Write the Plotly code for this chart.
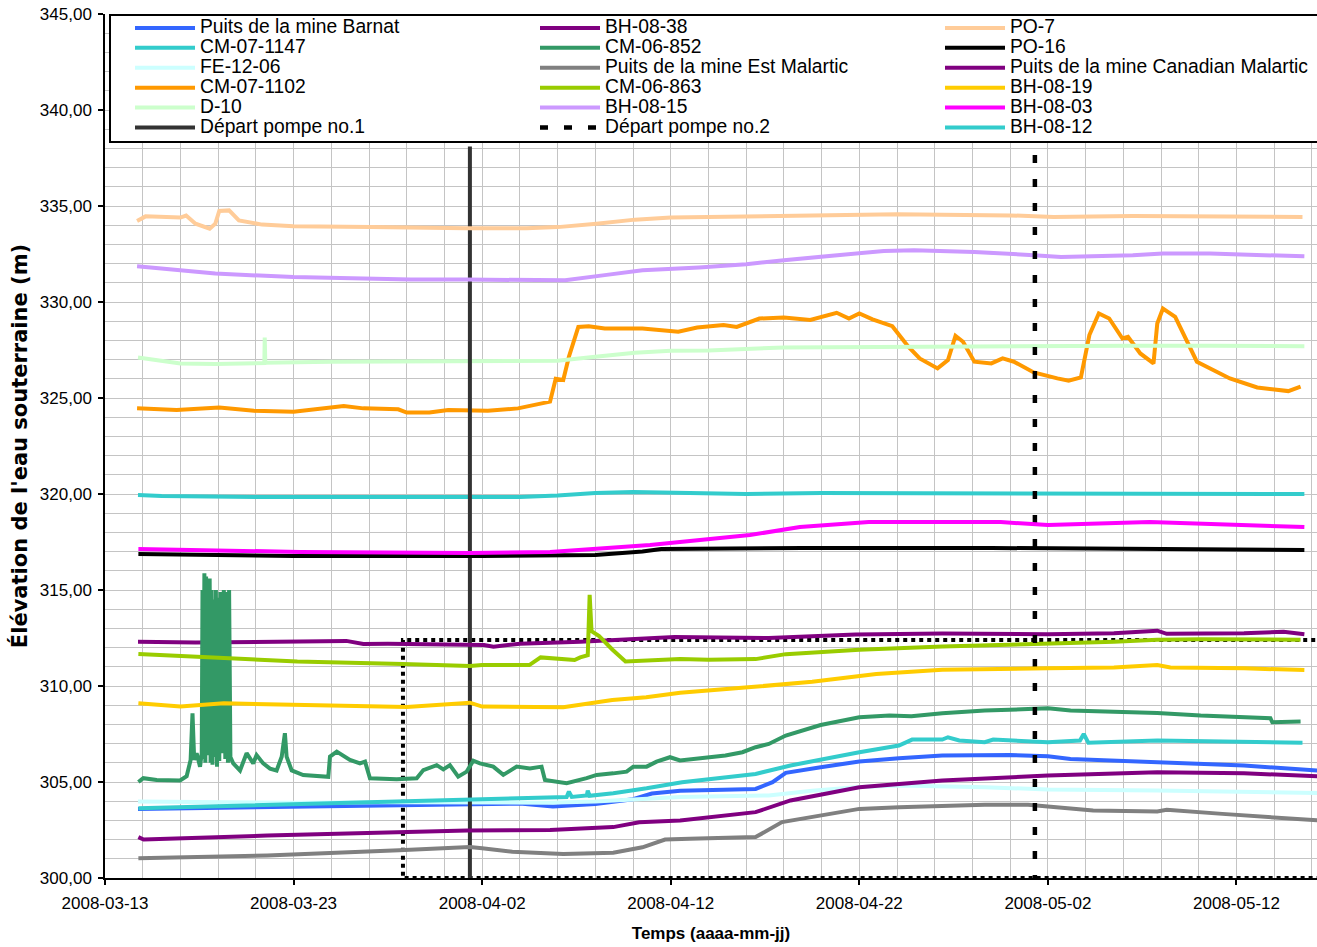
import pandas as pd
import plotly.graph_objects as go

START = pd.Timestamp("2008-03-13")
X_END_DAYS = 64.27

# ---- series (days since 2008-03-13, elevation m) ----
barnat_t = [1.75, 12, 16, 20, 22, 23.75, 26, 28, 29, 30.5, 32, 34.5, 35.4, 36.1, 37.95, 40, 42.1, 44.4, 48, 50, 51.2, 53.5, 55.8, 58.1, 60.4, 64.6]
barnat_v = [303.6, 303.72, 303.8, 303.85, 303.88, 303.72, 303.85, 304.1, 304.4, 304.55, 304.58, 304.64, 304.99, 305.48, 305.77, 306.07, 306.24, 306.38, 306.41, 306.34, 306.2, 306.12, 306.07, 305.94, 305.86, 305.58]

cm071147_t = [1.75, 3, 8, 12, 16, 19.5, 22, 24, 26, 28, 30, 34, 38, 42, 46, 50, 55, 60, 63.6]
cm071147_v = [319.95, 319.9, 319.85, 319.85, 319.82, 319.8, 319.85, 319.92, 320.05, 320.1, 320.08, 320.0, 320.05, 320.05, 320.05, 320.0, 320.02, 320.0, 320.0]

fe1206_t = [1.75, 8, 10, 15, 19, 23.5, 26, 28.3, 30.5, 35.2, 37.5, 39.8, 42.1, 46.65, 50, 55.8, 60.4, 64.6]
fe1206_v = [303.99, 303.95, 303.92, 303.95, 303.94, 303.92, 303.98, 304.12, 304.22, 304.3, 304.55, 304.73, 304.82, 304.73, 304.61, 304.56, 304.5, 304.42]

cm071102_t = [1.7, 3.8, 6.06, 7.9, 10, 11.8, 12.66, 13.7, 15.55, 16, 17.2, 18.2, 19.15, 20.3, 21.9, 23, 23.6, 23.9, 24.3, 24.6, 25.1, 25.65, 26.5, 28.5, 30.4, 31.4, 32.8, 33.5, 34.7, 36, 37.4, 38.8, 39.45, 40, 40.7, 41.75, 42.6, 43.2, 44.15, 44.7, 45.1, 45.5, 46.1, 47, 47.6, 48.2, 49.25, 50.5, 51.1, 51.75, 52.2, 52.7, 53.25, 53.95, 54.25, 54.9, 55.6, 55.8, 56.1, 56.75, 57.9, 59.65, 61.1, 62.75, 63.4]
cm071102_v = [324.46, 324.38, 324.5, 324.33, 324.29, 324.46, 324.58, 324.46, 324.41, 324.24, 324.24, 324.38, 324.38, 324.33, 324.46, 324.67, 324.81, 326.0, 325.94, 327.15, 328.7, 328.74, 328.62, 328.62, 328.45, 328.67, 328.8, 328.7, 329.14, 329.19, 329.06, 329.44, 329.14, 329.4, 329.1, 328.74, 327.67, 327.06, 326.54, 326.97, 328.24, 327.93, 326.89, 326.8, 327.06, 326.89, 326.33, 326.02, 325.9, 326.07, 328.28, 329.4, 329.14, 328.1, 328.19, 327.32, 326.8, 328.88, 329.66, 329.23, 326.89, 326.02, 325.55, 325.36, 325.59]

d10_t = [1.75, 4, 5.85, 8.3, 8.45, 8.47, 8.5, 12, 16, 19, 22.3, 24, 26, 28.1, 30, 32, 36, 42, 48, 54.5, 58.6, 63.6]
d10_v = [327.11, 326.8, 326.77, 326.8, 326.82, 328.15, 326.84, 326.89, 326.89, 326.89, 326.89, 326.94, 327.15, 327.36, 327.46, 327.48, 327.63, 327.67, 327.67, 327.72, 327.72, 327.7]

pompe1_t = [19.35, 19.35]
pompe1_v = [338.1, 299.6]

bh0838_t = [1.75, 4.8, 12.8, 13.7, 15, 19.5, 20.1, 20.6, 22, 25.2, 28.3, 30.2, 35.2, 39.8, 44.4, 50, 53.5, 55.8, 56.3, 60.4, 62.5, 63.6]
bh0838_v = [312.31, 312.26, 312.35, 312.19, 312.2, 312.19, 312.14, 312.05, 312.2, 312.31, 312.45, 312.55, 312.5, 312.68, 312.74, 312.7, 312.75, 312.88, 312.72, 312.75, 312.82, 312.7]

cm06852_t = [1.77, 2.03, 2.74, 3.98, 4.33, 4.54, 4.64, 4.73, 4.86, 5.04, 5.13,
             5.17, 5.22, 5.27, 5.32, 5.36, 5.41, 5.45, 5.50, 5.55, 5.60, 5.65, 5.70, 5.76, 5.82, 5.88, 5.94, 6.0, 6.06, 6.12, 6.2, 6.3, 6.38, 6.45, 6.52, 6.58, 6.65,
             6.8, 7.16, 7.51, 7.86, 8.04, 8.39, 8.75, 9.1, 9.37, 9.54, 9.63, 9.9, 10.51, 11.84, 11.93, 12.29, 12.99, 13.52, 13.79, 14.05, 15.47, 16.53, 16.88, 17.59, 17.94, 18.29, 18.73, 19.18, 19.53, 19.88, 20.59, 21.12, 21.83, 22.53, 23.15, 23.33, 24.48, 25.54, 26.07, 26.95, 27.66, 28.01, 28.72, 29.25, 29.96, 30.49, 32.9, 33.8, 34.5, 35.2, 36.1, 37.95, 40, 41.6, 42.76, 44.4, 46.65, 48.95, 50, 51.2, 53.5, 55.8, 58.1, 61.8, 61.9, 63.4]
cm06852_v = [305.0, 305.2, 305.1, 305.08, 305.3, 306.15, 308.58, 306.15, 306.5, 305.8, 306.5,
             315.0, 306.2, 315.87, 306.0, 315.7, 308.6, 315.5, 306.4, 315.6, 306.0, 315.0, 305.9, 314.5, 306.3, 315.0, 305.8, 314.6, 306.1, 314.9, 306.5, 315.0, 306.2, 314.9, 306.0, 315.0, 306.3,
             305.97, 305.6, 306.5, 305.97, 306.4, 305.97, 305.7, 305.6, 306.32, 307.54, 306.32, 305.6, 305.36, 305.27, 306.32, 306.58, 306.15, 305.97, 306.06, 305.19, 305.14, 305.19, 305.62, 305.88, 305.66, 305.88, 305.28, 305.54, 306.11, 305.97, 305.8, 305.37, 305.8, 305.71, 305.8, 305.11, 304.94, 305.2, 305.37, 305.45, 305.54, 305.8, 305.8, 306.06, 306.29, 306.12, 306.38, 306.55, 306.81, 306.98, 307.42, 307.97, 308.37, 308.46, 308.42, 308.58, 308.72, 308.8, 308.84, 308.72, 308.67, 308.6, 308.46, 308.32, 308.11, 308.15]

estmal_t = [1.77, 8.6, 15.6, 19.35, 20, 21.6, 24.3, 26.95, 28.5, 29.7, 31, 34.5, 35.9, 37.5, 40, 42.1, 46.65, 48.95, 50.3, 52.4, 55.8, 56.3, 59.25, 64.6]
estmal_v = [301.03, 301.17, 301.45, 301.62, 301.55, 301.37, 301.25, 301.32, 301.6, 302.0, 302.05, 302.13, 302.91, 303.17, 303.6, 303.69, 303.81, 303.81, 303.69, 303.52, 303.47, 303.55, 303.34, 302.98]

cm06863_t = [1.77, 6.67, 10.2, 15.8, 19.35, 20, 22.5, 23.1, 24.9, 25.2, 25.6, 25.7, 25.8, 26.2, 26.9, 27.6, 29.4, 30.5, 32, 34.5, 36.1, 40, 44.4, 50, 53.5, 55.8, 58.1, 63.4]
cm06863_v = [311.67, 311.44, 311.27, 311.15, 311.04, 311.09, 311.09, 311.49, 311.35, 311.49, 311.6, 314.75, 312.86, 312.6, 311.9, 311.28, 311.37, 311.4, 311.37, 311.4, 311.66, 311.89, 312.06, 312.18, 312.3, 312.41, 312.44, 312.41]

bh0815_t = [1.7, 5.85, 10, 14.1, 16.2, 19.15, 22.35, 24.4, 26.5, 28.5, 31.5, 34, 36, 38, 40, 41.3, 42.9, 46.1, 49.25, 50.7, 54.5, 56.1, 58.6, 60.7, 63.6]
bh0815_v = [331.86, 331.48, 331.3, 331.22, 331.17, 331.17, 331.13, 331.13, 331.4, 331.65, 331.8, 331.97, 332.18, 332.35, 332.52, 332.66, 332.7, 332.6, 332.44, 332.35, 332.44, 332.52, 332.52, 332.44, 332.38]

pompe2_t = [49.31, 49.31]
pompe2_v = [337.66, 300.0]

po7_t = [1.7, 2.15, 4, 4.3, 4.8, 5.55, 5.85, 6.06, 6.58, 7.1, 8.33, 10, 14.1, 16.2, 19.15, 22.35, 24, 26.06, 28.1, 30, 32, 36, 42, 48, 50.3, 54.5, 58.6, 63.5]
po7_v = [334.22, 334.46, 334.4, 334.5, 334.08, 333.82, 334.08, 334.74, 334.77, 334.25, 334.03, 333.94, 333.9, 333.86, 333.84, 333.84, 333.9, 334.08, 334.29, 334.4, 334.43, 334.51, 334.57, 334.51, 334.43, 334.48, 334.48, 334.43]

po16_t = [1.77, 10, 20, 26, 28.5, 29.5, 37, 47, 63.6]
po16_v = [316.88, 316.77, 316.77, 316.82, 317.0, 317.14, 317.19, 317.19, 317.08]

canmal_t = [1.77, 2.05, 8.6, 15.6, 19.2, 23.6, 26.95, 28.33, 30.5, 34.5, 36.35, 40, 44.4, 50, 55.8, 60.4, 64.6]
canmal_v = [302.13, 302.0, 302.21, 302.35, 302.47, 302.5, 302.65, 302.9, 303.0, 303.43, 304.04, 304.73, 305.08, 305.34, 305.51, 305.46, 305.28]

bh0819_t = [1.77, 4, 6.3, 13.7, 16, 19.35, 20, 24.3, 26.9, 28.7, 30.5, 34.1, 37.5, 40.9, 44.4, 50, 53.5, 55.8, 56.5, 60.4, 63.6]
bh0819_v = [309.1, 308.93, 309.1, 308.93, 308.9, 309.13, 308.93, 308.89, 309.27, 309.41, 309.65, 309.93, 310.22, 310.62, 310.85, 310.92, 310.97, 311.09, 310.97, 310.92, 310.83]

bh0803_t = [1.77, 10.34, 19.35, 23.6, 28.9, 34.2, 36.85, 40.5, 47.5, 50, 55.4, 60.7, 63.6]
bh0803_v = [317.14, 316.98, 316.93, 316.98, 317.34, 317.86, 318.28, 318.54, 318.54, 318.38, 318.54, 318.38, 318.28]

bh0812_t = [1.77, 8.6, 14.6, 19.9, 24.48, 24.6, 24.75, 25.55, 25.6, 25.7, 26.95, 28.72, 30.6, 34.5, 36.35, 40, 42.1, 42.8, 44.4, 44.7, 45.3, 46.65, 47.1, 50, 51.7, 51.9, 52.15, 55.8, 60.4, 63.5]
bh0812_v = [303.63, 303.8, 303.98, 304.12, 304.22, 304.5, 304.22, 304.3, 304.55, 304.28, 304.41, 304.67, 304.99, 305.42, 305.86, 306.55, 306.9, 307.21, 307.21, 307.33, 307.16, 307.07, 307.21, 307.07, 307.16, 307.5, 307.04, 307.16, 307.1, 307.04]

# dotted pumping-period outline (not in legend)
palier_t = [64.6, 15.8, 15.8, 64.6]
palier_v = [312.4, 312.4, 300.0, 300.0]

names = ["Puits de la mine Barnat", "CM-07-1147", "FE-12-06", "CM-07-1102", "D-10", "Départ pompe no.1",
         "BH-08-38", "CM-06-852", "Puits de la mine Est Malartic", "CM-06-863", "BH-08-15", "Départ pompe no.2",
         "PO-7", "PO-16", "Puits de la mine Canadian Malartic", "BH-08-19", "BH-08-03", "BH-08-12"]
colors = ["#3366FF", "#33CCCC", "#CCFFFF", "#FF9900", "#CCFFCC", "#333333",
          "#800080", "#339966", "#808080", "#99CC00", "#CC99FF", "#000000",
          "#FFCC99", "#000000", "#800080", "#FFCC00", "#FF00FF", "#33CCCC"]
series_t = [barnat_t, cm071147_t, fe1206_t, cm071102_t, d10_t, pompe1_t,
            bh0838_t, cm06852_t, estmal_t, cm06863_t, bh0815_t, pompe2_t,
            po7_t, po16_t, canmal_t, bh0819_t, bh0803_t, bh0812_t]
series_v = [barnat_v, cm071147_v, fe1206_v, cm071102_v, d10_v, pompe1_v,
            bh0838_v, cm06852_v, estmal_v, cm06863_v, bh0815_v, pompe2_v,
            po7_v, po16_v, canmal_v, bh0819_v, bh0803_v, bh0812_v]

y_ticks = [300, 305, 310, 315, 320, 325, 330, 335, 340, 345]


def to_dates(days):
    return START + pd.to_timedelta(days, unit="D")


fig = go.Figure()

# dotted outline drawn first (behind series)
fig.add_trace(go.Scatter(x=to_dates(palier_t), y=palier_v, mode="lines", showlegend=False,
                         hoverinfo="skip", line=dict(color="#000000", width=4, dash="4px,4px")))

legend_ids = ["legend"] * 6 + ["legend2"] * 6 + ["legend3"] * 6
for i, (nm, col, tt, vv) in enumerate(zip(names, colors, series_t, series_v)):
    width = 4
    dash = "solid"
    if nm == "Départ pompe no.2":
        width = 4.5
        dash = "8px,16px"
    fig.add_trace(go.Scatter(
        x=to_dates(tt), y=vv, mode="lines",
        name='<span style="font-size:19.3px">' + nm + '</span>',
        legend=legend_ids[i],
        line=dict(color=col, width=width, dash=dash),
    ))

PLOT_L, PLOT_R = 105, 1317
plot_w = PLOT_R - PLOT_L


def px_to_paper_x(px):
    return (px - PLOT_L) / plot_w


def px_to_paper_y(py):
    return (878 - py) / 864


# white legend frame
fig.add_shape(type="rect", xref="paper", yref="paper",
              x0=px_to_paper_x(110), x1=px_to_paper_x(1360), y0=px_to_paper_y(142), y1=px_to_paper_y(15),
              fillcolor="white", line=dict(color="black", width=2), layer="above")

leg_common = dict(bgcolor="rgba(0,0,0,0)", borderwidth=0, font=dict(size=13, color="black",
                  family="Liberation Sans, Arial, sans-serif"), itemwidth=60,
                  yanchor="top", xanchor="left", y=px_to_paper_y(13), tracegroupgap=0)

fig.update_layout(
    width=1317, height=947,
    margin=dict(l=105, r=0, t=14, b=69),
    paper_bgcolor="white", plot_bgcolor="white",
    separators=", ",
    font=dict(family="Liberation Sans, Arial, sans-serif", color="black", size=17),
    showlegend=True,
    legend=dict(x=px_to_paper_x(130), **leg_common),
    legend2=dict(x=px_to_paper_x(535), **leg_common),
    legend3=dict(x=px_to_paper_x(940), **leg_common),
    xaxis=dict(
        type="date",
        range=[START, to_dates(X_END_DAYS)],
        tick0=START, dtick=10 * 86400000, tickformat="%Y-%m-%d",
        ticks="outside", ticklen=5, tickwidth=1.5, tickcolor="black",
        ticklabelstandoff=4,
        showline=True, linecolor="black", linewidth=1.5,
        showgrid=True, gridcolor="#C4C4C4", gridwidth=1,
        minor=dict(dtick=2 * 86400000, showgrid=True, gridcolor="#C4C4C4", gridwidth=1),
        tickfont=dict(size=17),
        title=dict(text="<b>Temps (aaaa-mm-jj)</b>", font=dict(size=17), standoff=15),
        zeroline=False,
    ),
    yaxis=dict(
        range=[300, 345], tickvals=y_ticks, tickformat=".2f",
        ticks="outside", ticklen=5, tickwidth=1.5, tickcolor="black",
        ticklabelstandoff=3,
        showline=True, linecolor="black", linewidth=1.5,
        showgrid=True, gridcolor="#C4C4C4", gridwidth=1,
        minor=dict(dtick=1, showgrid=True, gridcolor="#C4C4C4", gridwidth=1),
        tickfont=dict(size=17),
        title=dict(text="<b>Élévation de l'eau souterraine (m)</b>",
                   font=dict(size=21, family="DejaVu Sans, Liberation Sans, sans-serif"), standoff=6),
        zeroline=False,
    ),
)

fig.write_html("out.html", config={"displayModeBar": False},
               post_script="document.body.style.margin='0';document.body.style.overflow='hidden';")
